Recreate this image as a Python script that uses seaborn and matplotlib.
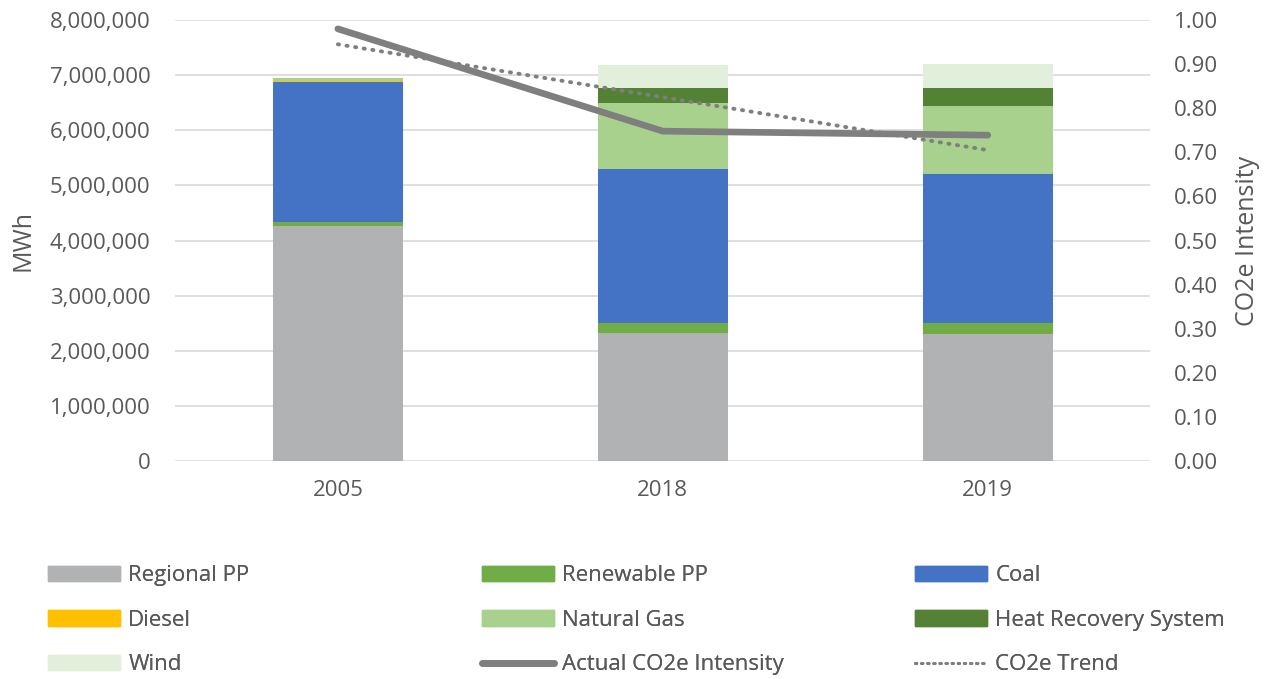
import numpy as np
import pandas as pd
import matplotlib
matplotlib.use("Agg")
import matplotlib.pyplot as plt
import seaborn as sns
from matplotlib.patches import Patch
from matplotlib.lines import Line2D
from matplotlib.ticker import FuncFormatter

years = ["2005", "2018", "2019"]
sources = ["Regional PP", "Renewable PP", "Coal", "Diesel", "Natural Gas",
           "Heat Recovery System", "Wind"]
regional_pp = [4260000, 2330000, 2300000]
renewable_pp = [80000, 170000, 200000]
coal = [2540000, 2800000, 2710000]
diesel = [20000, 0, 0]
natural_gas = [40000, 1190000, 1230000]
heat_recovery = [0, 280000, 320000]
wind = [10000, 410000, 440000]
actual_intensity = [0.98, 0.748, 0.739]
trend_intensity = [0.945, 0.825, 0.705]

colors = ["#b1b2b4", "#70ad47", "#4472c4", "#ffc000", "#a9d18e", "#548235", "#e2efda"]
text_color = "#595959"
line_color = "#7f7f7f"

sns.set_theme(style="white")
plt.rcParams["font.family"] = ["Open Sans", "DejaVu Sans"]

layers = [regional_pp, renewable_pp, coal, diesel, natural_gas, heat_recovery, wind]
cum = np.cumsum(np.array(layers, dtype=float), axis=0)

fig = plt.figure(figsize=(12.71, 6.79), dpi=100)
ax = fig.add_axes([0.138, 0.321, 0.767, 0.6495])

# draw cumulative totals top-down so lower layers cover upper ones
for i in range(len(sources) - 1, -1, -1):
    df = pd.DataFrame({"year": years, "value": cum[i]})
    sns.barplot(data=df, x="year", y="value", color=colors[i], width=0.4,
                saturation=1, ax=ax, zorder=2, linewidth=0)

ax.set_ylim(0, 8000000)
ax.set_yticks(np.arange(0, 8000001, 1000000))
ax.yaxis.set_major_formatter(FuncFormatter(lambda v, p: f"{int(v):,}"))
ax.set_xlim(-0.5, 2.5)
ax.grid(axis="y", color="#d9d9d9", linewidth=1.2, zorder=0)
ax.set_axisbelow(True)
for s in ax.spines.values():
    s.set_visible(False)
ax.set_xlabel("")
ax.set_ylabel("MWh", fontsize=18, color=text_color, labelpad=10)
ax.tick_params(axis="y", labelsize=16, colors=text_color, length=0, pad=18)
ax.tick_params(axis="x", labelsize=16, colors=text_color, length=0, pad=14)

ax2 = ax.twinx()
sns.lineplot(x=[0, 1, 2], y=actual_intensity, ax=ax2, color=line_color,
             linewidth=4.8, solid_capstyle="round")
sns.lineplot(x=[0, 1, 2], y=trend_intensity, ax=ax2, color=line_color,
             linewidth=2.8, linestyle=(0, (0.3, 1.94)), dash_capstyle="round")
ax2.set_ylim(0, 1)
ax2.set_yticks(np.arange(0, 1.001, 0.1))
ax2.yaxis.set_major_formatter(FuncFormatter(lambda v, p: f"{v:.2f}"))
ax2.set_xlim(-0.5, 2.5)
for s in ax2.spines.values():
    s.set_visible(False)
ax2.set_ylabel("CO2e Intensity", fontsize=18, color=text_color, labelpad=12)
ax2.tick_params(axis="y", labelsize=16, colors=text_color, length=0, pad=17)
ax2.grid(False)

handles = [Patch(color=c) for c in colors]
handles += [Line2D([], [], color=line_color, linewidth=4.8, solid_capstyle="round"),
            Line2D([], [], color=line_color, linewidth=2.2, linestyle=(0, (0.4, 1.6)),
                   dash_capstyle="round")]
labels = sources + ["Actual CO2e Intensity", "CO2e Trend"]

# one legend per column, read row-wise like the original
columns = [[0, 3, 6], [1, 4, 7], [2, 5, 8]]
col_x = [48, 482, 915]
for idx, x0 in zip(columns, col_x):
    leg = fig.legend([handles[i] for i in idx], [labels[i] for i in idx],
                     loc="upper left", bbox_to_anchor=(x0 / 1271, 0.168),
                     frameon=False, fontsize=16, handlelength=3.25,
                     handleheight=0.68, handletextpad=0.36, labelspacing=1.07,
                     borderpad=0, borderaxespad=0, labelcolor=text_color)
    fig.add_artist(leg)

fig.savefig("out.png", dpi=100)
